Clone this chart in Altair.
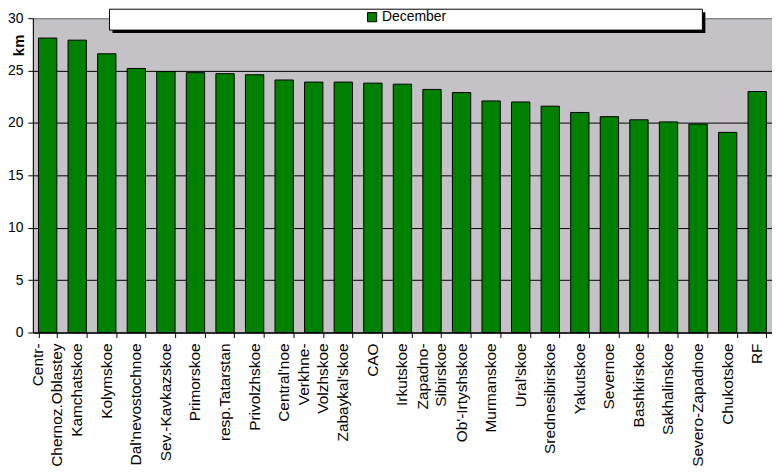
import altair as alt
import pandas as pd

regions = [
    "Centr-|Chernoz.Oblastey", "Kamchatskoe", "Kolymskoe", "Dal'nevostochnoe",
    "Sev.-Kavkazskoe", "Primorskoe", "resp.Tatarstan", "Privolzhskoe",
    "Central'noe", "Verkhne-|Volzhskoe", "Zabaykal'skoe", "CAO", "Irkutskoe",
    "Zapadno-|Sibirskoe", "Ob'-Irtyshskoe", "Murmanskoe", "Ural'skoe",
    "Srednesibirskoe", "Yakutskoe", "Severnoe", "Bashkirskoe", "Sakhalinskoe",
    "Severo-Zapadnoe", "Chukotskoe", "RF",
]
december = [
    28.1, 27.9, 26.6, 25.2, 24.9, 24.8, 24.7, 24.6, 24.1, 23.9, 23.9, 23.8,
    23.7, 23.2, 22.9, 22.1, 22.0, 21.6, 21.0, 20.6, 20.3, 20.1, 19.9, 19.1, 23.0,
]
series_name = ["December"]
y_ticks = [0, 5, 10, 15, 20, 25, 30]

df = pd.DataFrame({"region": regions, "km": december, "series": series_name * len(regions)})

FONT = "Liberation Sans"

x_enc = alt.X(
    "region:N", sort=regions, title=None,
    scale=alt.Scale(paddingInner=0.38, paddingOuter=0.19),
    axis=alt.Axis(
        labels=False, tickBand="extent", tickSize=5, tickColor="black",
        domainColor="black", grid=False,
    ),
)

bars = alt.Chart(df).mark_bar(stroke="black", strokeWidth=1).encode(
    x=x_enc,
    y=alt.Y(
        "km:Q", title="km",
        scale=alt.Scale(domain=[0, 30], nice=False),
        axis=alt.Axis(
            values=y_ticks, labelFontSize=14, labelFont=FONT, labelColor="black",
            labelPadding=5, tickSize=5, tickColor="black", domainColor="black",
            grid=True,
            gridColor=alt.condition("datum.value == 30", alt.value("#808080"), alt.value("black")),
            titleFont=FONT, titleFontSize=15, titleFontWeight="bold",
            titleAngle=-90, titleAlign="right", titleBaseline="middle",
            titleX=-14, titleY=16,
        ),
    ),
    color=alt.Color(
        "series:N", title=None,
        scale=alt.Scale(domain=series_name, range=["#008000"]),
        legend=alt.Legend(
            orient="none", legendX=334, legendY=-8, direction="horizontal",
            symbolType="square", symbolSize=85, symbolStrokeColor="black",
            symbolStrokeWidth=1, labelFontSize=14, labelFont=FONT,
            labelColor="black", labelOffset=3,
        ),
    ),
)

label_base = alt.Chart(df).encode(
    x=alt.X("region:N", sort=regions),
    y=alt.datum(0),
    text="region:N",
)
labels_single = label_base.transform_filter("indexof(datum.region, '|') < 0").mark_text(
    angle=270, align="right", baseline="middle", dx=-11, dy=0,
    font=FONT, fontSize=15.5, color="black",
)
labels_double = label_base.transform_filter("indexof(datum.region, '|') >= 0").mark_text(
    angle=270, align="right", baseline="middle", dx=-11, dy=-9.5,
    lineBreak="|", lineHeight=19, font=FONT, fontSize=15.5, color="black",
)

box_data = alt.Data(values=[{"k": 1}])
shadow = alt.Chart(box_data).mark_rect(color="black").encode(
    x=alt.value(80), x2=alt.value(676), y=alt.value(-6), y2=alt.value(15)
)
box = alt.Chart(box_data).mark_rect(fill="white", stroke="black", strokeWidth=1).encode(
    x=alt.value(77), x2=alt.value(673), y=alt.value(-9), y2=alt.value(12)
)

chart = alt.layer(bars, labels_single, labels_double, shadow, box).properties(
    width=743, height=316,
    autosize=alt.AutoSizeParams(type="none"),
    padding={"left": 25, "top": 9, "right": 0, "bottom": 140},
).configure_view(
    fill="#C4C2C6", stroke="#808080", strokeWidth=1
)

chart.save("out.html", embed_options={"renderer": "svg", "actions": False})
